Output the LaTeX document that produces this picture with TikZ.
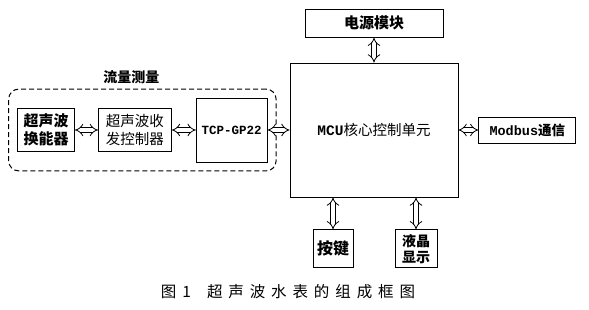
\documentclass[tikz,border=0pt]{standalone}
\usepackage{fontspec}
\setmainfont{Liberation Serif}
\newfontfamily\cjk{Noto Sans CJK SC}
\newfontfamily\latin{Liberation Mono}
\newfontfamily\capfont{Noto Sans CJK SC}[LetterSpace=38]
\usepackage{tikz}
\usetikzlibrary{arrows.meta, positioning, fit}
\tikzset{
  block/.style={rectangle, draw=black, line width=0.8pt, inner sep=1pt, align=center, text centered, font=\cjk\bfseries\fontsize{15}{18}\selectfont},
  plainblock/.style={block, font=\cjk\fontsize{14.5}{18}\selectfont},
  group/.style={draw=black, line width=1pt, dash pattern=on 5pt off 3pt, rounded corners=10pt},
  dblarrow/.style={double, double distance=3.6pt, line width=0.8pt, {Implies}-{Implies}},
  caption/.style={font=\capfont\fontsize{15.5}{18}\selectfont}
}
\begin{document}
\begin{tikzpicture}[x=1pt, y=-1pt]
\useasboundingbox (0,0) rectangle (589,310);
% core and peripherals
\node[plainblock, minimum width=168pt, minimum height=134pt] (mcu) at (374,130) {{\latin\bfseries MCU}核心控制单元};
\node[block, minimum width=138pt, minimum height=28pt, above=25pt of mcu] (power) {电源模块};
\node[block, font=\cjk\bfseries\fontsize{13.5}{16}\selectfont, minimum width=97pt, minimum height=26pt, right=20pt of mcu] (modbus) {{\latin Modbus}通信};
\node[block, font=\cjk\bfseries\fontsize{16}{18}\selectfont, minimum width=40pt, minimum height=38pt, below=32pt of mcu.south, xshift=-41pt] (key) {按键};
\node[block, font=\cjk\bfseries\fontsize{14}{16}\selectfont, minimum width=42pt, minimum height=38pt, below=32pt of mcu.south, xshift=42pt] (lcd) {液晶\\显示};

% flow measurement chain
\node[plainblock, font=\latin\bfseries\fontsize{12.5}{15}\selectfont, minimum width=71pt, minimum height=64pt, left=22pt of mcu] (tdc) {TCP-GP22};
\node[plainblock, minimum width=73pt, minimum height=43pt, left=24pt of tdc] (transceiver) {超声波收\\发控制器};
\node[block, minimum width=57pt, minimum height=43pt, left=23pt of transceiver] (transducer) {超声波\\换能器};
\node[group, fit=(transducer)(tdc), inner xsep=8.5pt, inner ysep=8.5pt] (flow) {};
\node[font=\cjk\bfseries\fontsize{14}{16}\selectfont, above=1pt of flow, xshift=-11pt] (flowlabel) {流量测量};

\draw[dblarrow] (transducer) -- (transceiver);
\draw[dblarrow] (transceiver) -- (tdc);
\draw[dblarrow] (tdc) -- (mcu);
\draw[dblarrow] (mcu) -- (modbus);
\draw[dblarrow] (power) -- (mcu);
\draw[dblarrow] (key) -- (key |- mcu.south);
\draw[dblarrow] (lcd) -- (lcd |- mcu.south);

\node[caption] (cap) at (288,292) {图\hspace{6pt}1\hspace{16pt}超声波水表的组成框图};
\end{tikzpicture}
\end{document}
